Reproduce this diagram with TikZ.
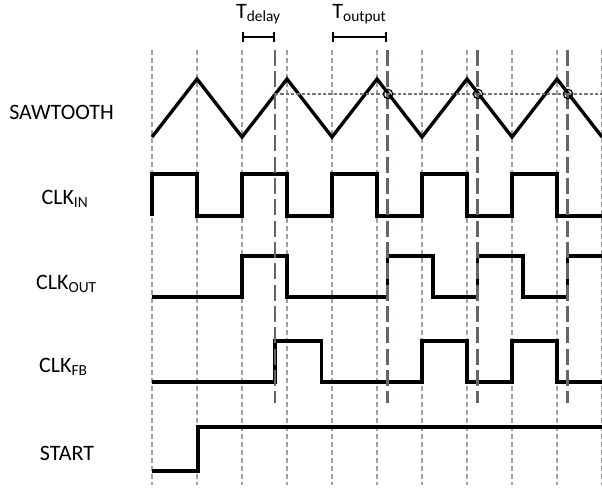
\documentclass[tikz,border=0pt]{standalone}
\usepackage{fontspec}
\setmainfont{Carlito}
\usetikzlibrary{arrows.meta}
\definecolor{gridgray}{RGB}{160,160,160}
\definecolor{markgray}{RGB}{105,100,100}
\definecolor{levelgray}{RGB}{115,115,115}
\tikzset{
  wave/.style={line width=2.5pt,black},
  gridline/.style={gridgray,line width=0.8pt,dash pattern=on 3.8pt off 2.2pt},
  trigline/.style={markgray,line width=1.8pt,dash pattern=on 12pt off 4pt},
  levelline/.style={levelgray,line width=2.2pt,dash pattern=on 2.4pt off 1.6pt},
  siglabel/.style={font=\fontsize{16.5}{19}\selectfont,anchor=base,inner sep=0pt},
  spanbar/.style={line width=1.6pt,{Bar[width=7.5pt]}-{Bar[width=7.5pt]}},
}
\begin{document}
\begin{tikzpicture}[x=0.75pt,y=-0.75pt]
        \useasboundingbox (0,0) rectangle (602,489);
        % time grid
        \foreach \i in {0,...,10}
            \draw[gridline] (152+45*\i,50) -- (152+45*\i,485);
        % signal names
        \node[siglabel] (saw) at (61.5,119) {SAWTOOTH};
        \node[siglabel] (clkin) at (65,204) {CLK\textsubscript{IN}};
        \node[siglabel] (clkout) at (66.5,289) {CLK\textsubscript{OUT}};
        \node[siglabel] (clkfb) at (63.5,372.5) {CLK\textsubscript{FB}};
        \node[siglabel] (start) at (67,460) {START};
        % waveforms
        \draw[wave] (152,137) \foreach \i in {0,...,4} { -- ++(45,-58) -- ++(45,58) };
        \draw[wave] (152,216) \foreach \i in {0,...,4} { -- ++(0,-42) -- ++(45,0) -- ++(0,42) -- ++(45,0) };
        \draw[wave] (152,297) -- (242,297) -- (242,256) -- (287,256) -- (287,297) -- (387.5,297)
            -- (387.5,256) -- (433,256) -- (433,297) -- (477.5,297) -- (477.5,256) -- (523,256)
            -- (523,297) -- (567.5,297) -- (567.5,256) -- (602,256);
        \draw[wave] (152,382) -- (275,382) -- (275,341) -- (321.5,341) -- (321.5,382) -- (422,382)
            -- (422,341) -- (467,341) -- (467,382) -- (512,382) -- (512,341) -- (557,341)
            -- (557,382) -- (602,382);
        \draw[wave] (152,471) -- (198,471) -- (198,427) -- (602,427);
        % threshold and trigger points
        \draw[levelline] (275,94) -- (602,94);
        \foreach \x in {275,387.5,477.5,567.5}
            \draw[trigline] (\x,50) -- (\x,403);
        \foreach \x in {388,478,568}
            \draw[line width=0.9pt] (\x,94) circle (3.5pt);
        % time spans
        \coordinate (d1) at (242,36.7);
        \coordinate (d2) at (275,36.7);
        \coordinate (o1) at (332,36.7);
        \coordinate (o2) at (387,36.7);
        \draw[spanbar] (d1) -- (d2) node[midway,siglabel,anchor=base,yshift=14pt] (tdelay) {T\textsubscript{delay}};
        \draw[spanbar] (o1) -- (o2) node[midway,siglabel,anchor=base,yshift=14pt] (toutput) {T\textsubscript{output}};
\end{tikzpicture}
\end{document}
